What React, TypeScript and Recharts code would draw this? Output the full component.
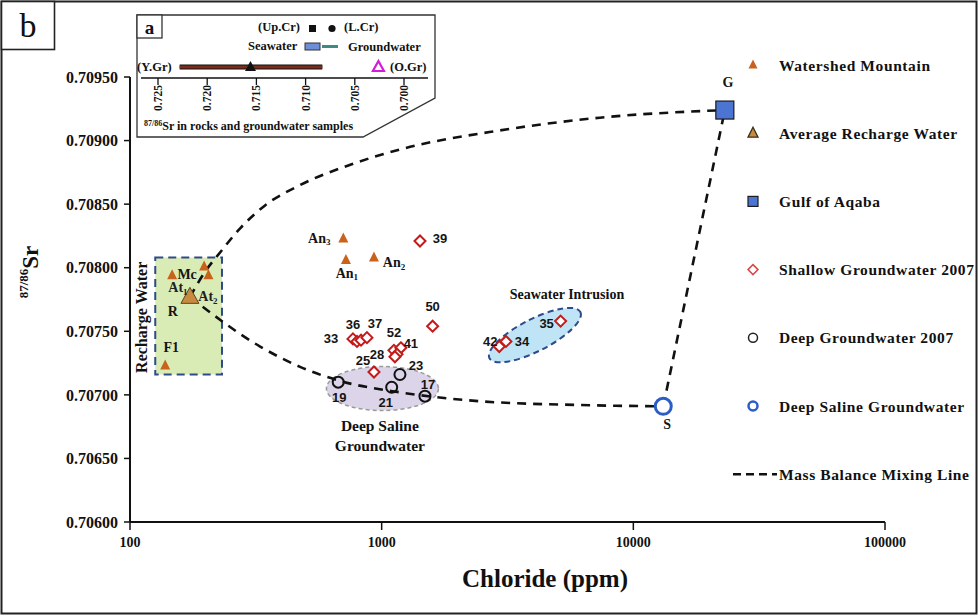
import React from 'react';
import { ScatterChart, Scatter, XAxis, YAxis, ReferenceArea } from 'recharts';

const W = 979;
const H = 616;

// axes
const clTicks = [100, 1000, 10000, 100000];
const srTicks = [0.706, 0.7065, 0.707, 0.7075, 0.708, 0.7085, 0.709, 0.7095];

// Watershed Mountain springs
const wmNames = ['F1', 'Mc', '', '', 'An3', 'An1', 'An2'];
const wmCl = [138, 147, 197, 205, 704, 721, 932];
const wmSr = [0.70723, 0.70794, 0.70801, 0.70794, 0.70823, 0.70806, 0.70808];

// Average recharge water
const rwNames = ['R'];
const rwCl = [173];
const rwSr = [0.70777];

// Gulf of Aqaba
const gaNames = ['G'];
const gaCl = [23100];
const gaSr = [0.70924];

// Shallow groundwater 2007
const shNames = ['39', '50', '33', '36', '', '37', '52', '41', '', '28', '25', '42', '34', '35'];
const shCl = [1420, 1594, 769, 798, 828, 874, 1119, 1192, 1151, 1129, 932, 2933, 3118, 5141];
const shSr = [0.70821, 0.70754, 0.70744, 0.70742, 0.70743, 0.70745, 0.70735, 0.70737, 0.70732, 0.7073, 0.70718, 0.70738, 0.70742, 0.70758];

// Deep groundwater 2007
const dgNames = ['19', '21', '23', '17'];
const dgCl = [672, 1096, 1182, 1486];
const dgSr = [0.7071, 0.70706, 0.70716, 0.70699];

// Deep saline groundwater
const dsNames = ['S'];
const dsCl = [13150];
const dsSr = [0.70691];

// mass balance mixing lines
const upperCl = [173, 199, 228, 274, 344, 474, 750, 1182, 2955, 7358, 23100];
const upperSr = [0.70777, 0.70797, 0.70812, 0.70831, 0.70849, 0.70865, 0.70881, 0.70893, 0.70908, 0.70918, 0.70924];
const lowerCl = [173, 329, 474, 682, 1182, 2457, 6147, 13150];
const lowerSr = [0.70777, 0.70738, 0.70722, 0.70711, 0.70702, 0.70695, 0.70692, 0.70691];
const seaCl = [13150, 23100];
const seaSr = [0.70691, 0.70924];

// inset (a)
const insetTicks = [0.725, 0.72, 0.715, 0.71, 0.705, 0.7];
const youngGranite = [0.7228, 0.7083];
const youngGraniteMean = 0.7156;
const oldGranite = 0.7026;

const legendNames = [
  'Watershed Mountain',
  'Average Recharge Water',
  'Gulf of Aqaba',
  'Shallow Groundwater 2007',
  'Deep Groundwater 2007',
  'Deep Saline Groundwater',
  'Mass Balance Mixing Line',
];

const pts = (names: string[], cl: number[], sr: number[]) =>
  cl.map((c, i) => ({ name: names[i], cl: c, sr: sr[i] }));

const serif = '"Liberation Serif", "Times New Roman", serif';
const sans = '"Liberation Sans", Arial, sans-serif';

const labelAt: Record<string, [number, number]> = {
  F1: [6, -18], Mc: [15, -1], An3: [-24, 0], An1: [1, 13], An2: [20, 5],
  R: [-17, 15], G: [3, -28], S: [4, 18],
  '39': [20, -3], '50': [0, -20], '33': [-22, 0], '36': [-4, -17], '37': [8, -14],
  '52': [0, -18], '41': [10, -4], '28': [-18, -2], '25': [-11, -11],
  '42': [-9, -5], '34': [16, 0], '35': [-14, 2],
  '19': [1, 15], '21': [-6, 15], '23': [16, -9], '17': [3, -12],
};

const PointLabel = ({ x, y, name }: any) => {
  if (!name) return null;
  const off = labelAt[name] || [0, 0];
  const numeric = /^\d+$/.test(name);
  const m = name.match(/^(An|At)(\d)$/);
  return (
    <text
      x={x + off[0]}
      y={y + off[1]}
      textAnchor="middle"
      dominantBaseline="central"
      fontFamily={numeric ? sans : serif}
      fontWeight="bold"
      fontSize={numeric ? 13 : 14}
      fill="#151515"
    >
      {m ? (
        <>
          {m[1]}
          <tspan fontSize={9} dy={4}>{m[2]}</tspan>
        </>
      ) : (
        name
      )}
    </text>
  );
};

const tri = (cx: number, cy: number, w: number, h: number) =>
  `M${cx},${cy - h * 0.6} L${cx + w / 2},${cy + h * 0.4} L${cx - w / 2},${cy + h * 0.4} Z`;
const dia = (cx: number, cy: number, r: number) =>
  `M${cx},${cy - r} L${cx + r},${cy} L${cx},${cy + r} L${cx - r},${cy} Z`;

const WatershedShape = (p: any) => (
  <g>
    <path d={tri(p.cx, p.cy, 10, 10)} fill="#C9621A" />
    <PointLabel x={p.cx} y={p.cy} name={p.payload.name} />
  </g>
);

const RechargeShape = (p: any) => (
  <g>
    <path d={tri(p.cx, p.cy, 18, 16)} fill="#C78A3E" stroke="#5a4820" strokeWidth={1} />
    <text x={p.cx - 12} y={p.cy - 9} textAnchor="middle" dominantBaseline="central" fontFamily={serif} fontWeight="bold" fontSize={14} fill="#222">
      At<tspan fontSize={9} dy={4}>1</tspan>
    </text>
    <text x={p.cx + 18} y={p.cy + 0} textAnchor="middle" dominantBaseline="central" fontFamily={serif} fontWeight="bold" fontSize={14} fill="#222">
      At<tspan fontSize={9} dy={4}>2</tspan>
    </text>
    <PointLabel x={p.cx} y={p.cy} name={p.payload.name} />
  </g>
);

const GulfShape = (p: any) => (
  <g>
    <rect x={p.cx - 9} y={p.cy - 9} width={18} height={18} fill="#4C74D2" stroke="#1b1b1b" strokeWidth={1.2} />
    <PointLabel x={p.cx} y={p.cy} name={p.payload.name} />
  </g>
);

const ShallowShape = (p: any) => (
  <g>
    <path d={dia(p.cx, p.cy, 5.5)} fill="#fff" stroke="#C41A1A" strokeWidth={2} />
    <PointLabel x={p.cx} y={p.cy} name={p.payload.name} />
  </g>
);

const DeepShape = (p: any) => (
  <g>
    <circle cx={p.cx} cy={p.cy} r={5.5} fill="none" stroke="#111" strokeWidth={2} />
    <PointLabel x={p.cx} y={p.cy} name={p.payload.name} />
  </g>
);

const SalineShape = (p: any) => (
  <g>
    <circle cx={p.cx} cy={p.cy} r={8} fill="#fff" stroke="#2C5DC6" strokeWidth={3} />
    <PointLabel x={p.cx} y={p.cy} name={p.payload.name} />
  </g>
);

const NoDot = () => <g />;

// background annotations
const purpleZone = [{ cl: 1007, sr: 0.70705 }];
const blueZone = [{ cl: 4064, sr: 0.70747 }];
const noteSea = [{ cl: 5448, sr: 0.70779 }];
const noteDeep = [{ cl: 984, sr: 0.70668 }];
const noteRecharge = [{ cl: 111, sr: 0.70761 }];

const lineStyle = { stroke: '#111', strokeWidth: 2.6, strokeDasharray: '9 7', fill: 'none' };

const ix = (v: number) => 158 + ((0.725 - v) / 0.005) * 49.2;

const Inset = () => (
  <g fontFamily={serif} fontWeight="bold" fill="#111">
    <path d="M137,15 L435,15 L435,98 L363,137 L137,137 Z" fill="#fff" stroke="#333" strokeWidth={1.3} />
    <rect x={137} y={15} width={25} height={23} fill="#fff" stroke="#333" strokeWidth={1.3} />
    <text x={149.5} y={27} textAnchor="middle" dominantBaseline="central" fontSize={19}>a</text>
    <text x={258} y={31} fontSize={12.5}>(Up.Cr)</text>
    <rect x={309} y={25} width={7} height={7} fill="#111" />
    <circle cx={332} cy={28.5} r={3.6} fill="#111" />
    <text x={344} y={31} fontSize={12.5}>(L.Cr)</text>
    <text x={248} y={50} fontSize={12.5}>Seawater</text>
    <rect x={305} y={43} width={15} height={7} fill="#6E8FD8" stroke="#333" strokeWidth={1} />
    <line x1={322} y1={46.5} x2={338} y2={46.5} stroke="#3E8B86" strokeWidth={3} />
    <text x={348} y={51} fontSize={12.5}>Groundwater</text>
    <text x={137} y={71} fontSize={12.5}>(Y.Gr)</text>
    <line x1={ix(youngGranite[0])} y1={67} x2={ix(youngGranite[1])} y2={67} stroke="#111" strokeWidth={5} />
    <line x1={ix(youngGranite[0])} y1={67} x2={ix(youngGranite[1])} y2={67} stroke="#7A2E1A" strokeWidth={3} />
    <path d={tri(ix(youngGraniteMean), 67, 11, 10)} fill="#111" />
    <path d={tri(ix(oldGranite), 67, 11, 10)} fill="#fff" stroke="#D81BD8" strokeWidth={2.2} />
    <text x={390} y={71} fontSize={12.5}>(O.Gr)</text>
    <line x1={141} y1={78} x2={428} y2={78} stroke="#111" strokeWidth={1.5} />
    {insetTicks.map((t) => (
      <g key={t}>
        <line x1={ix(t)} y1={78} x2={ix(t)} y2={85} stroke="#111" strokeWidth={1.3} />
        <text
          x={ix(t)}
          y={98}
          textAnchor="middle"
          dominantBaseline="central"
          fontSize={11.5}
          transform={`rotate(-90 ${ix(t)} 98)`}
        >
          {t.toFixed(3)}
        </text>
      </g>
    ))}
    <text x={144} y={130} fontSize={12}>
      <tspan fontSize={8} dy={-4}>87/86</tspan>
      <tspan dy={4}>Sr in rocks and groundwater samples</tspan>
    </text>
  </g>
);

const Legend = () => {
  const lx = 753;
  const tx = 779;
  return (
    <g>
      {legendNames.map((n, i) => {
        const y = 65 + i * 68.2;
        let mk: React.ReactNode = null;
        if (i === 0) mk = <path d={tri(lx, y, 9, 9)} fill="#C9621A" />;
        if (i === 1) mk = <path d={tri(lx, y, 10, 10)} fill="#C78A3E" stroke="#3d3016" strokeWidth={1.3} />;
        if (i === 2) mk = <rect x={lx - 5} y={y - 5} width={10} height={10} fill="#4C74D2" stroke="#1b1b1b" strokeWidth={1.2} />;
        if (i === 3) mk = <path d={dia(lx, y, 5)} fill="#fff" stroke="#D84848" strokeWidth={1.5} />;
        if (i === 4) mk = <circle cx={lx} cy={y} r={4.5} fill="none" stroke="#222" strokeWidth={1.5} />;
        if (i === 5) mk = <circle cx={lx} cy={y} r={4.5} fill="none" stroke="#2C5DC6" strokeWidth={2.5} />;
        if (i === 6) mk = <line x1={733} y1={y} x2={777} y2={y} stroke="#111" strokeWidth={2.4} strokeDasharray="8 5" />;
        return (
          <g key={n}>
            {mk}
            <text
              x={tx}
              y={y}
              dominantBaseline="central"
              fontFamily={serif}
              fontWeight="bold"
              fontSize={15.5}
              letterSpacing={0.6}
              fill="#111"
            >
              {n}
            </text>
          </g>
        );
      })}
    </g>
  );
};

const Overlay = () => (
  <svg width={W} height={H} style={{ position: 'absolute', left: 0, top: 0, pointerEvents: 'none' }}>
    <rect x={1.5} y={1.5} width={W - 4} height={H - 4} fill="none" stroke="#222" strokeWidth={2} />
    <rect x={1.5} y={1.5} width={53} height={48} fill="#fff" stroke="#222" strokeWidth={1.6} />
    <text x={28} y={25} textAnchor="middle" dominantBaseline="central" fontFamily={serif} fontSize={34} fill="#111">
      b
    </text>
    <Inset />
    <Legend />
    <text
      x={545}
      y={578}
      textAnchor="middle"
      dominantBaseline="central"
      fontFamily={serif}
      fontWeight="bold"
      fontSize={25}
      fill="#111"
    >
      Chloride  (ppm)
    </text>
    <text
      x={30}
      y={272}
      textAnchor="middle"
      dominantBaseline="central"
      fontFamily={serif}
      fontWeight="bold"
      fontSize={23}
      fill="#111"
      transform="rotate(-90 30 272)"
    >
      <tspan fontSize={13} dy={-7}>87/86</tspan>
      <tspan dy={7}>Sr</tspan>
    </text>
  </svg>
);

const App: React.FC = () => {
  return (
    <div style={{ position: 'absolute', left: 0, top: 0, width: W, height: H, background: '#fff' }}>
      <ScatterChart width={W} height={H} margin={{ top: 77, right: 94, bottom: 64, left: 70 }}>
        <XAxis
          type="number"
          dataKey="cl"
          scale="log"
          domain={[100, 100000]}
          ticks={clTicks}
          allowDataOverflow
          height={30}
          tickSize={8}
          tickMargin={7}
          axisLine={{ stroke: '#111', strokeWidth: 2 }}
          tickLine={{ stroke: '#111', strokeWidth: 1.5 }}
          tick={{ fontFamily: serif, fontWeight: 'bold', fontSize: 14, fill: '#111' }}
          tickFormatter={(v) => String(v)}
        />
        <YAxis
          type="number"
          dataKey="sr"
          domain={[0.706, 0.7095]}
          ticks={srTicks}
          allowDataOverflow
          width={60}
          tickSize={6}
          tickMargin={6}
          axisLine={{ stroke: '#111', strokeWidth: 2 }}
          tickLine={{ stroke: '#111', strokeWidth: 1.5 }}
          tick={{ fontFamily: serif, fontWeight: 'bold', fontSize: 16, fill: '#111' }}
          tickFormatter={(v) => Number(v).toFixed(5)}
        />
        <ReferenceArea
          x1={126}
          x2={232}
          y1={0.70716}
          y2={0.70808}
          fill="#DAECB6"
          fillOpacity={1}
          stroke="#2E4A8A"
          strokeWidth={2}
          strokeDasharray="8 5"
          ifOverflow="visible"
        />
        <Scatter
          data={purpleZone}
          isAnimationActive={false}
          shape={(p: any) => (
            <ellipse cx={p.cx} cy={p.cy} rx={56} ry={22} fill="#DCD5EA" stroke="#9a9a9a" strokeWidth={1.5} strokeDasharray="4 3" />
          )}
        />
        <Scatter
          data={blueZone}
          isAnimationActive={false}
          shape={(p: any) => (
            <ellipse
              cx={p.cx}
              cy={p.cy}
              rx={51}
              ry={16}
              transform={`rotate(-27 ${p.cx} ${p.cy})`}
              fill="#BFE4F6"
              stroke="#2E4A8A"
              strokeWidth={2}
              strokeDasharray="6 4"
            />
          )}
        />
        <Scatter data={pts([], upperCl, upperSr)} isAnimationActive={false} line={lineStyle} lineJointType="monotoneX" shape={NoDot} />
        <Scatter data={pts([], lowerCl, lowerSr)} isAnimationActive={false} line={lineStyle} lineJointType="monotoneX" shape={NoDot} />
        <Scatter data={pts([], seaCl, seaSr)} isAnimationActive={false} line={lineStyle} shape={NoDot} />
        <Scatter
          data={noteSea}
          isAnimationActive={false}
          shape={(p: any) => (
            <text x={p.cx} y={p.cy} textAnchor="middle" dominantBaseline="central" fontFamily={serif} fontWeight="bold" fontSize={14} fill="#111">
              Seawater  Intrusion
            </text>
          )}
        />
        <Scatter
          data={noteDeep}
          isAnimationActive={false}
          shape={(p: any) => (
            <text x={p.cx} y={p.cy} textAnchor="middle" fontFamily={serif} fontWeight="bold" fontSize={15.5} fill="#111">
              <tspan x={p.cx} dy={-5}>Deep Saline</tspan>
              <tspan x={p.cx} dy={20}>Groundwater</tspan>
            </text>
          )}
        />
        <Scatter
          data={noteRecharge}
          isAnimationActive={false}
          shape={(p: any) => (
            <text
              x={p.cx}
              y={p.cy}
              textAnchor="middle"
              dominantBaseline="central"
              fontFamily={serif}
              fontWeight="bold"
              fontSize={16}
              fill="#111"
              transform={`rotate(-90 ${p.cx} ${p.cy})`}
            >
              Recharge Water
            </text>
          )}
        />
        <Scatter data={pts(wmNames, wmCl, wmSr)} isAnimationActive={false} shape={WatershedShape} />
        <Scatter data={pts(rwNames, rwCl, rwSr)} isAnimationActive={false} shape={RechargeShape} />
        <Scatter data={pts(shNames, shCl, shSr)} isAnimationActive={false} shape={ShallowShape} />
        <Scatter data={pts(dgNames, dgCl, dgSr)} isAnimationActive={false} shape={DeepShape} />
        <Scatter data={pts(gaNames, gaCl, gaSr)} isAnimationActive={false} shape={GulfShape} />
        <Scatter data={pts(dsNames, dsCl, dsSr)} isAnimationActive={false} shape={SalineShape} />
      </ScatterChart>
      <Overlay />
    </div>
  );
};

export default App;
